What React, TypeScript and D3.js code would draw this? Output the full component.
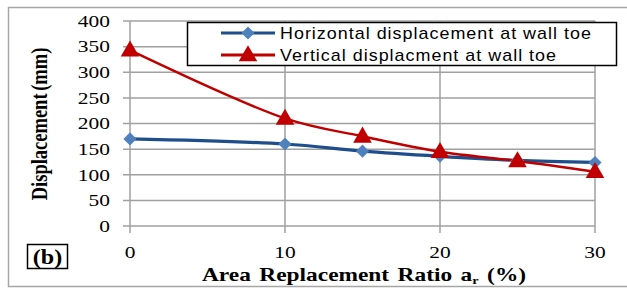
import React, { useEffect, useRef } from 'react';
import * as d3 from 'd3';

const ratios = [0, 10, 15, 20, 25, 30];
const horizontal = [170, 160, 146, 136, 128, 124];
const vertical = [343, 210, 175, 145, 127, 106];
const yTicks = [0, 50, 100, 150, 200, 250, 300, 350, 400];
const xTicks = [0, 10, 20, 30];
const seriesNames = ['Horizontal displacement at wall toe', 'Vertical displacment at wall toe'];

const W = 627;
const H = 289;

export default function App() {
  const ref = useRef<SVGSVGElement>(null);

  useEffect(() => {
    if (!ref.current) return;
    const svg = d3.select(ref.current);
    svg.selectAll('*').remove();

    const x = d3.scaleLinear().domain([0, 30]).range([130, 595]);
    const y = d3.scaleLinear().domain([0, 400]).range([226, 21]);
    const serif = "'Liberation Serif', 'Times New Roman', serif";
    const sans = "'Liberation Sans', Arial, sans-serif";
    const sx = 1.3; // the original picture is stretched sideways

    // outer frame
    svg.append('rect').attr('x', 8.5).attr('y', 7.5).attr('width', 640).attr('height', 279)
      .attr('fill', 'white').attr('stroke', '#a6a6a6').attr('stroke-width', 1.5);

    // grid
    const grid = svg.append('g').attr('stroke', '#a0a0a0').attr('stroke-width', 1.5);
    yTicks.forEach(t => {
      grid.append('line').attr('x1', x(0) - 7).attr('x2', x(30)).attr('y1', y(t)).attr('y2', y(t));
    });
    xTicks.forEach(t => {
      grid.append('line').attr('x1', x(t)).attr('x2', x(t)).attr('y1', y(400)).attr('y2', y(0) + 7);
    });

    // tick labels
    yTicks.forEach(t => {
      svg.append('text').attr('transform', `translate(110,${y(t)}) scale(${sx},1)`).attr('dy', '0.35em')
        .attr('text-anchor', 'end').attr('font-family', serif).attr('font-size', 16.5).text(t);
    });
    xTicks.forEach(t => {
      svg.append('text').attr('transform', `translate(${x(t)},258) scale(${sx},1)`)
        .attr('text-anchor', 'middle').attr('font-family', serif).attr('font-size', 16.5).text(t);
    });

    // axis titles
    svg.append('text').attr('transform', 'translate(47,124) rotate(-90) scale(1,1.25)')
      .attr('text-anchor', 'middle').attr('font-family', serif).attr('font-weight', 'bold')
      .attr('font-size', 18.5).attr('word-spacing', -2).text('Displacement (mm)');
    const xt = svg.append('text').attr('transform', `translate(364,281) scale(${sx},1)`).attr('text-anchor', 'middle')
      .attr('font-family', serif).attr('font-weight', 'bold').attr('font-size', 18)
      .attr('word-spacing', 2);
    xt.append('tspan').text('Area Replacement Ratio a');
    xt.append('tspan').attr('font-size', 11).attr('dy', 3).text('r');
    xt.append('tspan').attr('dy', -3).text(' (%)');

    // (b) label
    svg.append('rect').attr('x', 27.5).attr('y', 244.5).attr('width', 40).attr('height', 24)
      .attr('fill', 'white').attr('stroke', '#000').attr('stroke-width', 1.5);
    svg.append('text').attr('transform', 'translate(47.5,264) scale(1.15,1)').attr('text-anchor', 'middle')
      .attr('font-family', serif).attr('font-weight', 'bold').attr('font-size', 21).text('(b)');

    const line = d3.line<number>().x((_, i) => x(ratios[i])).y(d => y(d)).curve(d3.curveCatmullRom.alpha(0.5));
    const diamond = d3.symbol().type(d3.symbolDiamond2).size(110);
    const triangle = d3.symbol().type(d3.symbolTriangle).size(150);

    svg.append('path').datum(horizontal).attr('d', line).attr('fill', 'none')
      .attr('stroke', '#1f4e8c').attr('stroke-width', 3.2);
    svg.append('path').datum(vertical).attr('d', line).attr('fill', 'none')
      .attr('stroke', '#c00000').attr('stroke-width', 2.5);

    horizontal.forEach((v, i) => {
      svg.append('path').attr('d', diamond).attr('transform', `translate(${x(ratios[i])},${y(v)})`)
        .attr('fill', '#4f81bd');
    });
    vertical.forEach((v, i) => {
      svg.append('path').attr('d', triangle).attr('transform', `translate(${x(ratios[i])},${y(v) + 1})`)
        .attr('fill', '#c00000');
    });

    // legend
    svg.append('rect').attr('x', 187.5).attr('y', 22.5).attr('width', 429).attr('height', 43)
      .attr('fill', 'white').attr('stroke', '#000').attr('stroke-width', 1.5);
    const colors = ['#1f4e8c', '#c00000'];
    seriesNames.forEach((name, i) => {
      const ly = 33 + i * 22;
      svg.append('line').attr('x1', 221).attr('x2', 275).attr('y1', ly).attr('y2', ly)
        .attr('stroke', colors[i]).attr('stroke-width', 3);
      svg.append('path').attr('d', i === 0 ? diamond : triangle)
        .attr('transform', `translate(248,${ly + (i === 0 ? 0 : 1)})`)
        .attr('fill', i === 0 ? '#4f81bd' : '#c00000');
      svg.append('text').attr('transform', `translate(280,${ly}) scale(1.12,1)`).attr('dy', '0.35em')
        .attr('font-family', sans).attr('font-size', 16).attr('letter-spacing', 0.9)
        .text(name);
    });
  }, []);

  return (
    <svg ref={ref} width={W} height={H} style={{ position: 'absolute', left: 0, top: 0 }} />
  );
}
